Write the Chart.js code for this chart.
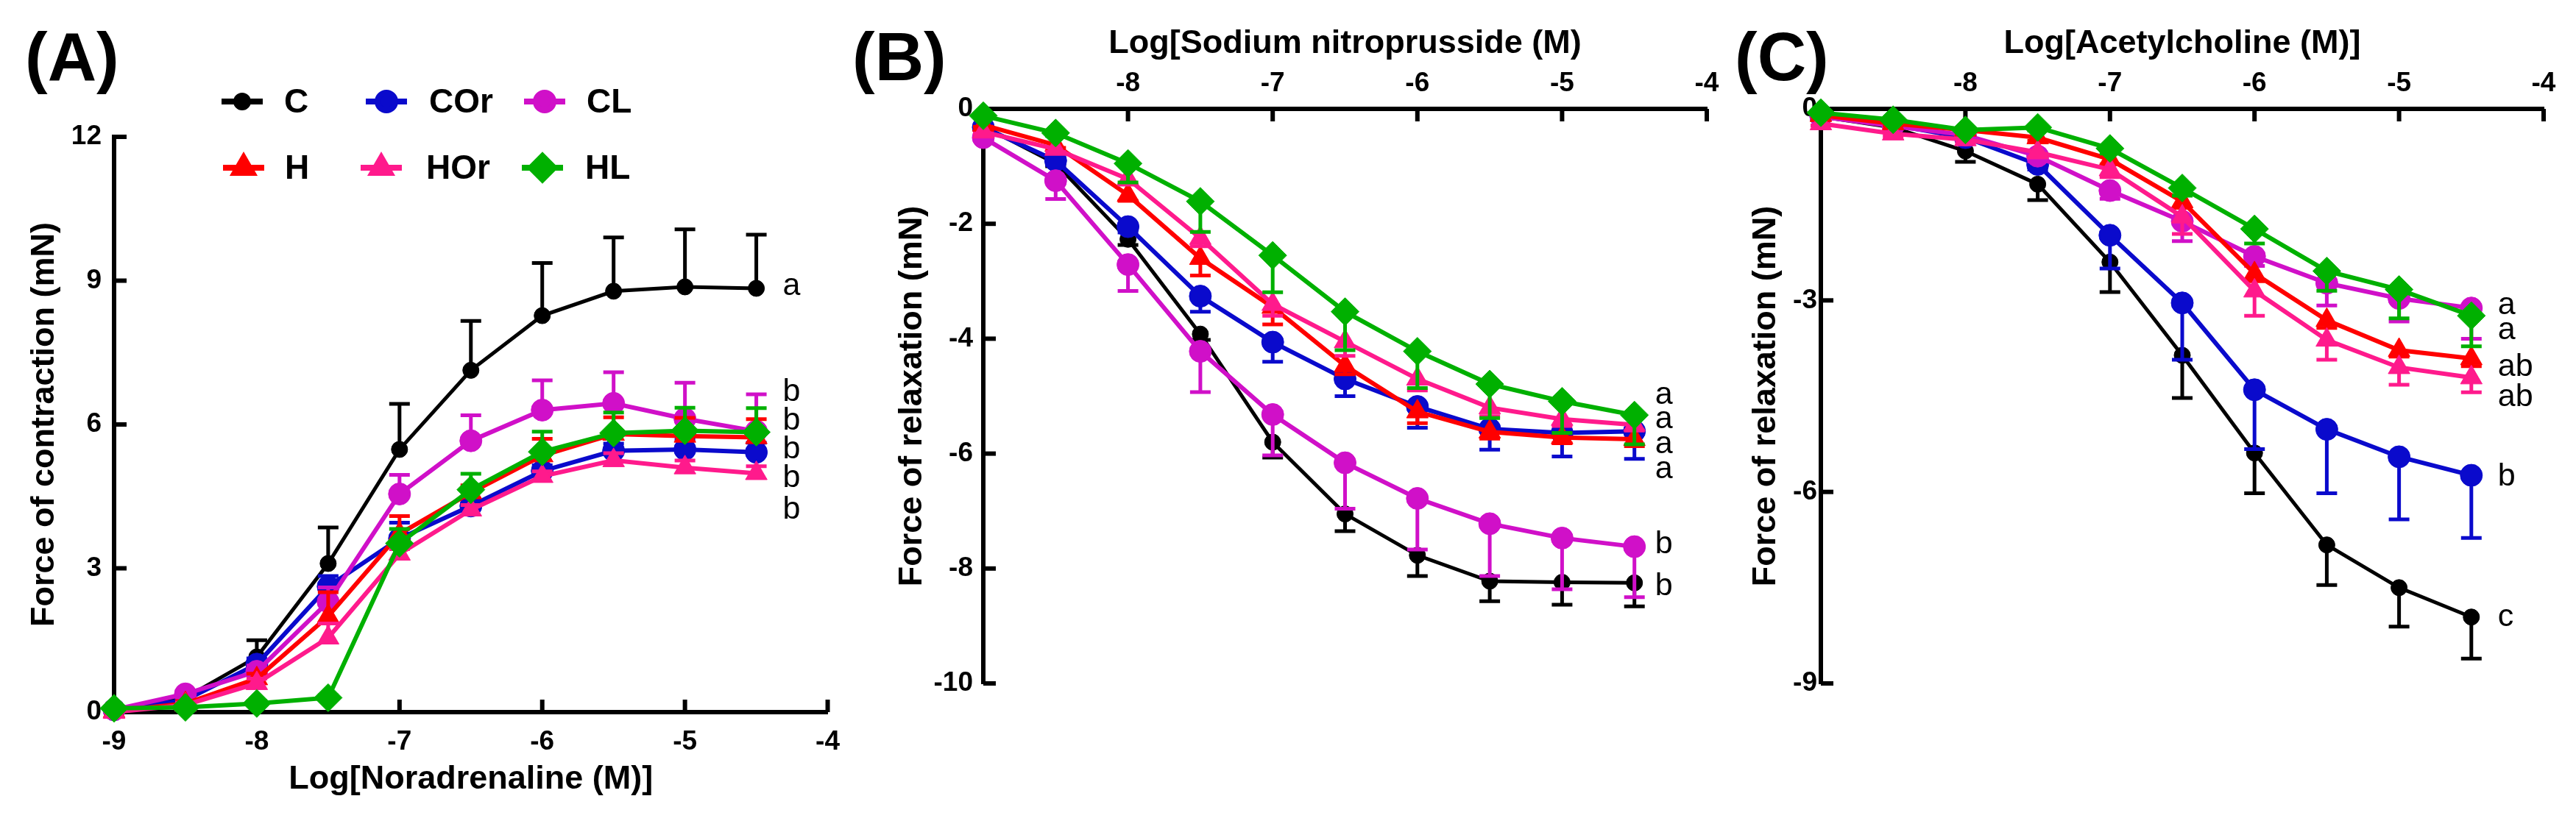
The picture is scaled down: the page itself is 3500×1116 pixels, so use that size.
<!DOCTYPE html>
<html>
<head>
<meta charset="utf-8">
<script src="https://cdn.jsdelivr.net/npm/chart.js@4.4.0/dist/chart.umd.min.js"></script>
<style>
  body { margin: 0; background: #fff; width: 3500px; height: 1116px; position: relative; overflow: hidden; }
  canvas { position: absolute; top: 0; }
</style>
</head>
<body>
<canvas id="chartA" width="1160" height="1116" style="left:0"></canvas>
<canvas id="chartB" width="1200" height="1116" style="left:1150px"></canvas>
<canvas id="chartC" width="1170" height="1116" style="left:2330px"></canvas>
<script>
// log molar concentrations, shared by the three panels
const doses = [-9, -8.5, -8, -7.5, -7, -6.5, -6, -5.5, -5, -4.5];
const groups = ['C', 'H', 'COr', 'HOr', 'CL', 'HL'];

// (A) noradrenaline, force of contraction (mN), mean and SEM
const naC = [0.05, 0.30, 1.15, 3.10, 5.48, 7.13, 8.27, 8.78, 8.87, 8.84];
const naCErr = [0.02, 0.05, 0.35, 0.75, 0.95, 1.03, 1.10, 1.12, 1.20, 1.12];
const naH = [0.02, 0.18, 0.70, 2.00, 3.72, 4.58, 5.35, 5.80, 5.76, 5.73];
const naHErr = [0.02, 0.05, 0.10, 0.50, 0.37, 0.15, 0.35, 0.35, 0.38, 0.38];
const naCOr = [0.05, 0.25, 1.00, 2.62, 3.62, 4.30, 5.03, 5.45, 5.48, 5.42];
const naCOrErr = [0.02, 0.05, 0.12, 0.22, 0.33, 0.15, 0.12, 0.15, 0.20, 0.20];
const naHOr = [0.00, 0.15, 0.60, 1.55, 3.30, 4.22, 4.92, 5.25, 5.10, 4.98];
const naHOrErr = [0.02, 0.05, 0.10, 0.30, 0.10, 0.10, 0.10, 0.15, 0.15, 0.15];
const naCL = [0.05, 0.38, 0.85, 2.30, 4.55, 5.66, 6.30, 6.44, 6.12, 5.86];
const naCLErr = [0.02, 0.05, 0.12, 0.30, 0.40, 0.53, 0.62, 0.65, 0.75, 0.77];
const naHL = [0.08, 0.10, 0.18, 0.30, 3.52, 4.64, 5.43, 5.82, 5.87, 5.84];
const naHLErr = [0.02, 0.03, 0.05, 0.05, 0.30, 0.33, 0.42, 0.43, 0.48, 0.50];

// (B) sodium nitroprusside, force of relaxation (mN)
const snpC = [-0.30, -0.95, -2.27, -3.92, -5.80, -7.05, -7.77, -8.22, -8.24, -8.25];
const snpCErr = [0.03, 0.05, 0.10, 0.10, 0.27, 0.30, 0.36, 0.35, 0.39, 0.41];
const snpH = [-0.28, -0.63, -1.50, -2.60, -3.45, -4.47, -5.27, -5.62, -5.72, -5.75];
const snpHErr = [0.03, 0.05, 0.10, 0.30, 0.30, 0.15, 0.20, 0.12, 0.10, 0.12];
const snpCOr = [-0.32, -0.90, -2.05, -3.26, -4.06, -4.70, -5.18, -5.57, -5.64, -5.61];
const snpCOrErr = [0.03, 0.08, 0.10, 0.27, 0.34, 0.30, 0.37, 0.36, 0.41, 0.48];
const snpHOr = [-0.40, -0.70, -1.22, -2.25, -3.40, -4.05, -4.70, -5.20, -5.40, -5.50];
const snpHOrErr = [0.03, 0.05, 0.10, 0.14, 0.20, 0.25, 0.20, 0.15, 0.12, 0.10];
const snpCL = [-0.50, -1.25, -2.71, -4.22, -5.32, -6.16, -6.78, -7.22, -7.47, -7.62];
const snpCLErr = [0.05, 0.32, 0.46, 0.71, 0.71, 0.80, 0.89, 0.91, 0.89, 0.88];
const snpHL = [-0.12, -0.42, -0.95, -1.61, -2.55, -3.53, -4.22, -4.79, -5.09, -5.33];
const snpHLErr = [0.03, 0.05, 0.33, 0.53, 0.64, 0.67, 0.64, 0.59, 0.55, 0.51];

// (C) acetylcholine, force of relaxation (mN)
const achC = [-0.12, -0.29, -0.66, -1.18, -2.40, -3.86, -5.39, -6.83, -7.50, -7.96];
const achCErr = [0.03, 0.05, 0.17, 0.25, 0.47, 0.67, 0.63, 0.63, 0.61, 0.65];
const achH = [-0.10, -0.23, -0.33, -0.45, -0.79, -1.45, -2.58, -3.31, -3.78, -3.91];
const achHErr = [0.02, 0.03, 0.05, 0.05, 0.08, 0.10, 0.12, 0.12, 0.10, 0.12];
const achCOr = [-0.12, -0.25, -0.45, -0.87, -1.98, -3.04, -4.40, -5.02, -5.45, -5.74];
const achCOrErr = [0.02, 0.03, 0.05, 0.08, 0.52, 0.89, 0.93, 1.00, 0.98, 0.98];
const achHOr = [-0.23, -0.39, -0.48, -0.68, -0.95, -1.69, -2.85, -3.62, -4.05, -4.21];
const achHOrErr = [0.03, 0.04, 0.05, 0.08, 0.12, 0.27, 0.39, 0.31, 0.27, 0.23];
const achCL = [-0.12, -0.27, -0.41, -0.74, -1.28, -1.76, -2.31, -2.73, -2.97, -3.12];
const achCLErr = [0.02, 0.03, 0.05, 0.08, 0.13, 0.31, 0.15, 0.35, 0.36, 0.48];
const achHL = [-0.06, -0.17, -0.33, -0.29, -0.62, -1.24, -1.88, -2.54, -2.83, -3.24];
const achHLErr = [0.02, 0.03, 0.03, 0.05, 0.08, 0.12, 0.23, 0.31, 0.45, 0.48];

// axis ticks
const xTicks = [-9, -8, -7, -6, -5, -4];
const yTicksA = [0, 3, 6, 9, 12];
const yTicksB = [0, -2, -4, -6, -8, -10];
const yTicksC = [0, -3, -6, -9];

// significance letters beside the last dose, and the value they sit at
const sigA = ['a', 'b', 'b', 'b', 'b', 'b'];
const sigAy = [8.88, 6.67, 6.07, 5.48, 4.88, 4.22];
const sigB = ['a', 'a', 'a', 'a', 'b', 'b'];
const sigBy = [-4.98, -5.40, -5.84, -6.28, -7.58, -8.31];
const sigC = ['a', 'a', 'ab', 'ab', 'b', 'c'];
const sigCy = [-3.08, -3.47, -4.05, -4.52, -5.76, -7.97];

const FONT = "'Liberation Sans', Arial, sans-serif";

const styles = {
  C:   { color: '#000000', pointStyle: 'circle',   radius: 11, width: 5, order: 6 },
  H:   { color: '#ff0000', pointStyle: 'triangle', radius: 17, width: 6, order: 3 },
  COr: { color: '#0a0acc', pointStyle: 'circle',   radius: 15, width: 6, order: 5 },
  HOr: { color: '#ff1a8c', pointStyle: 'triangle', radius: 17, width: 6, order: 2 },
  CL:  { color: '#d010c8', pointStyle: 'circle',   radius: 15, width: 6, order: 4 },
  HL:  { color: '#00b000', pointStyle: 'rectRot',  radius: 19, width: 6, order: 1 }
};

function makeDatasets(means, errs) {
  return groups.map((g, k) => {
    const s = styles[g];
    return {
      label: g,
      data: doses.map((d, i) => ({ x: d, y: means[k][i] })),
      errors: errs[k],
      borderColor: s.color,
      backgroundColor: s.color,
      borderWidth: s.width,
      pointStyle: s.pointStyle,
      pointRadius: s.radius,
      pointBackgroundColor: s.color,
      pointBorderColor: s.color,
      pointBorderWidth: 1,
      tension: 0,
      clip: false,
      order: s.order
    };
  });
}

// SEM bars, drawn just under each series
const errorBars = {
  id: 'errorBars',
  beforeDatasetDraw(chart, args, opts) {
    const ds = chart.data.datasets[args.index];
    const xs = chart.scales.x, ys = chart.scales.y, ctx = chart.ctx;
    ctx.save();
    ctx.strokeStyle = ds.borderColor;
    ctx.lineWidth = 5;
    ds.data.forEach((p, i) => {
      const px = xs.getPixelForValue(p.x);
      const y0 = ys.getPixelForValue(p.y);
      const y1 = ys.getPixelForValue(p.y + opts.dir * ds.errors[i]);
      ctx.beginPath();
      ctx.moveTo(px, y0);
      ctx.lineTo(px, y1);
      ctx.moveTo(px - 14, y1);
      ctx.lineTo(px + 14, y1);
      ctx.stroke();
    });
    ctx.restore();
  }
};

// tick marks point into the plot
const inwardTicks = {
  id: 'inwardTicks',
  beforeDatasetsDraw(chart) {
    const { ctx, chartArea } = chart;
    const xs = chart.scales.x, ys = chart.scales.y;
    const top = xs.options.position === 'top';
    const edge = top ? chartArea.top : chartArea.bottom;
    ctx.save();
    ctx.strokeStyle = '#000';
    ctx.lineWidth = 6;
    xs.ticks.forEach(t => {
      const px = xs.getPixelForValue(t.value);
      ctx.beginPath();
      ctx.moveTo(px, edge);
      ctx.lineTo(px, edge + (top ? 17 : -17));
      ctx.stroke();
    });
    ys.ticks.forEach(t => {
      const py = ys.getPixelForValue(t.value);
      ctx.beginPath();
      ctx.moveTo(chartArea.left, py);
      ctx.lineTo(chartArea.left + 17, py);
      ctx.stroke();
    });
    ctx.restore();
  }
};

// panel letter, significance letters and (panel A only) the legend
const labels = {
  id: 'labels',
  afterDraw(chart, args, opts) {
    const ctx = chart.ctx;
    const xs = chart.scales.x, ys = chart.scales.y;
    ctx.save();
    ctx.fillStyle = '#000';
    ctx.textBaseline = 'alphabetic';
    ctx.textAlign = 'left';
    ctx.font = 'bold 92px ' + FONT;
    ctx.fillText(opts.panel, opts.panelX, 109);

    ctx.font = '43px ' + FONT;
    ctx.textBaseline = 'middle';
    const lx = xs.getPixelForValue(doses[doses.length - 1]) + opts.letterDx;
    opts.letters.forEach((t, i) => ctx.fillText(t, lx, ys.getPixelForValue(opts.letterY[i])));

    if (opts.legend) {
      const spots = {
        C: [301, 138, 386], COr: [497, 138, 583], CL: [712, 138, 797],
        H: [303, 228, 387], HOr: [490, 228, 579], HL: [709, 228, 795]
      };
      chart.data.datasets.forEach(ds => {
        const [x0, y, tx] = spots[ds.label];
        ctx.strokeStyle = ds.borderColor;
        ctx.fillStyle = ds.borderColor;
        ctx.lineWidth = 8;
        ctx.beginPath();
        ctx.moveTo(x0, y);
        ctx.lineTo(x0 + 56, y);
        ctx.stroke();
        Chart.helpers.drawPoint(ctx, { pointStyle: ds.pointStyle, radius: ds.pointRadius - 3, rotation: 0, borderWidth: 1 }, x0 + 28, y);
        ctx.fillStyle = '#000';
        ctx.font = 'bold 46px ' + FONT;
        ctx.fillText(ds.label, tx, y + 2);
      });
    }
    ctx.restore();
  }
};

function makePanel(id, p) {
  return new Chart(document.getElementById(id), {
    type: 'line',
    data: { datasets: makeDatasets(p.means, p.errs) },
    plugins: [errorBars, inwardTicks, labels],
    options: {
      responsive: false,
      animation: false,
      devicePixelRatio: 1,
      layout: { padding: p.padding },
      plugins: {
        legend: { display: false },
        tooltip: { enabled: false },
        errorBars: { dir: p.dir },
        labels: { panel: p.panel, panelX: p.panelX, letters: p.letters, letterY: p.letterY, letterDx: p.letterDx, legend: p.legend }
      },
      scales: {
        x: {
          type: 'linear',
          position: p.xPos,
          min: -9,
          max: -4,
          afterFit: s => { s.height = 148; },
          afterBuildTicks: s => { s.ticks = xTicks.map(v => ({ value: v })); },
          ticks: {
            color: '#000',
            font: { family: FONT, size: 37, weight: 'bold' },
            padding: p.xPad,
            maxRotation: 0,
            callback: v => (p.hideFirstX && v === -9) ? '' : String(v)
          },
          grid: { drawOnChartArea: false, drawTicks: false },
          border: { display: true, color: '#000', width: 6 },
          title: {
            display: true,
            text: p.xTitle,
            color: '#000',
            font: { family: FONT, size: 45, weight: 'bold' },
            padding: { top: p.xTitlePad, bottom: p.xTitlePad }
          }
        },
        y: {
          type: 'linear',
          min: p.yMin,
          max: p.yMax,
          afterFit: s => { s.width = p.yWidth; },
          afterBuildTicks: s => { s.ticks = p.yTicks.map(v => ({ value: v })); },
          ticks: {
            color: '#000',
            font: { family: FONT, size: 37, weight: 'bold' },
            padding: p.yPad,
            callback: v => String(v)
          },
          grid: { drawOnChartArea: false, drawTicks: false },
          border: { display: true, color: '#000', width: 6 },
          title: {
            display: true,
            text: p.yTitle,
            color: '#000',
            font: { family: FONT, size: 45, weight: 'bold' },
            padding: { top: p.yTitlePad, bottom: 0 }
          }
        }
      }
    }
  });
}

makePanel('chartA', {
  means: [naC, naH, naCOr, naHOr, naCL, naHL],
  errs: [naCErr, naHErr, naCOrErr, naHOrErr, naCLErr, naHLErr],
  dir: 1, xPos: 'bottom', xPad: 19, xTitlePad: 29, hideFirstX: false,
  yMin: 0, yMax: 12, yTicks: yTicksA, yWidth: 155, yPad: 17, yTitlePad: 34,
  padding: { top: 186, right: 25, bottom: 0, left: 0 },
  xTitle: 'Log[Noradrenaline (M)]', yTitle: 'Force of contraction (mN)',
  panel: '(A)', panelX: 34, letters: sigA, letterY: sigAy, letterDx: 36, legend: true
});

makePanel('chartB', {
  means: [snpC, snpH, snpCOr, snpHOr, snpCL, snpHL],
  errs: [snpCErr, snpHErr, snpCOrErr, snpHOrErr, snpCLErr, snpHLErr],
  dir: -1, xPos: 'top', xPad: 12, xTitlePad: 33, hideFirstX: true,
  yMin: -10, yMax: 0, yTicks: yTicksB, yWidth: 186, yPad: 14, yTitlePad: 63,
  padding: { top: 0, right: 31, bottom: 187, left: 0 },
  xTitle: 'Log[Sodium nitroprusside (M)', yTitle: 'Force of relaxation (mN)',
  panel: '(B)', panelX: 8, letters: sigB, letterY: sigBy, letterDx: 28, legend: false
});

makePanel('chartC', {
  means: [achC, achH, achCOr, achHOr, achCL, achHL],
  errs: [achCErr, achHErr, achCOrErr, achHOrErr, achCLErr, achHLErr],
  dir: -1, xPos: 'top', xPad: 12, xTitlePad: 33, hideFirstX: true,
  yMin: -9, yMax: 0, yTicks: yTicksC, yWidth: 144, yPad: 5, yTitlePad: 43,
  padding: { top: 0, right: 44, bottom: 187, left: 0 },
  xTitle: 'Log[Acetylcholine (M)]', yTitle: 'Force of relaxation (mN)',
  panel: '(C)', panelX: 27, letters: sigC, letterY: sigCy, letterDx: 36, legend: false
});
</script>
</body>
</html>
